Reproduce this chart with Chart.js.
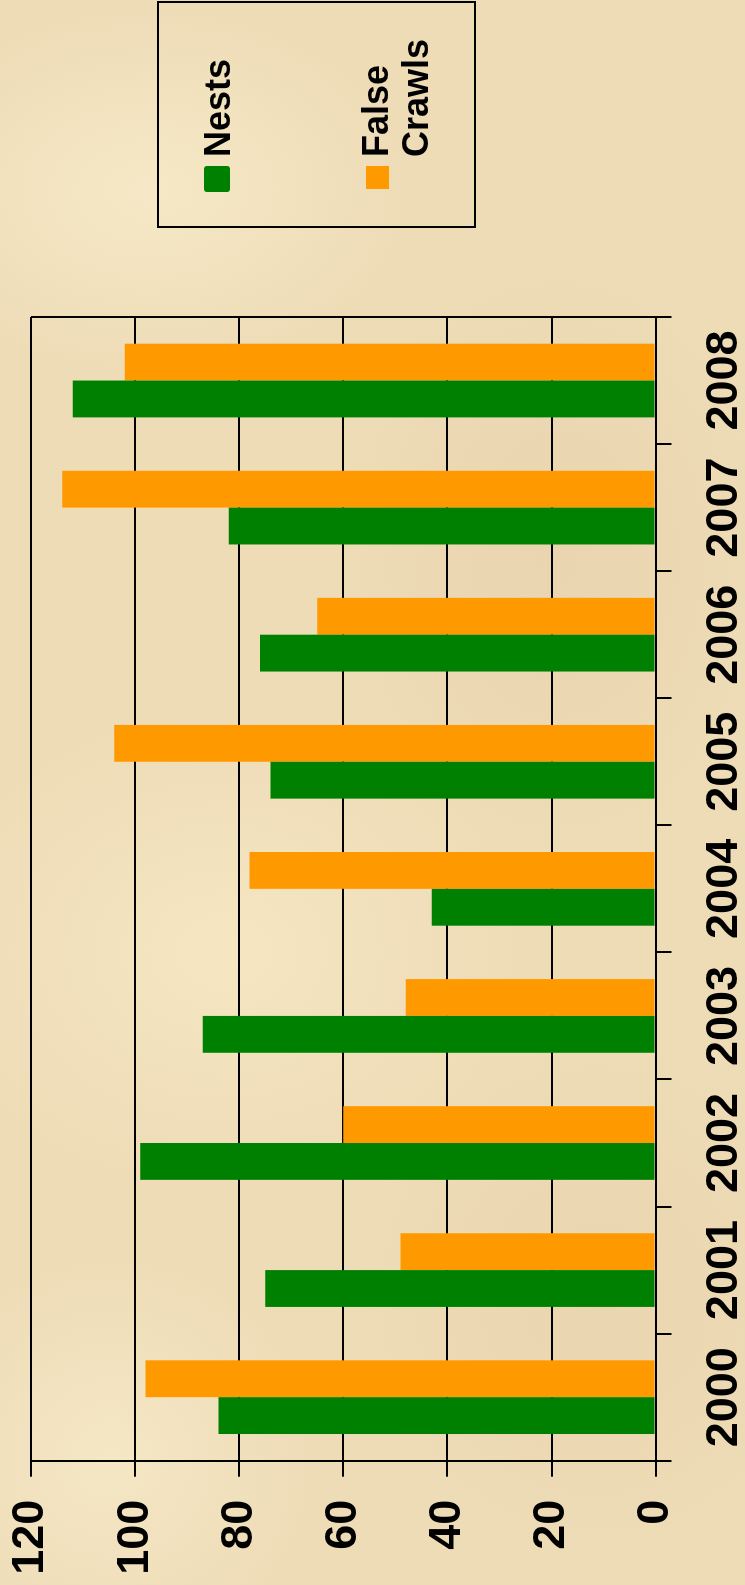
<!DOCTYPE html>
<html>
<head>
<meta charset="utf-8">
<title>Nests and False Crawls</title>
<script src="https://cdn.jsdelivr.net/npm/chart.js@4.4.1/dist/chart.umd.min.js"></script>
<style>
  html, body {
    margin: 0;
    padding: 0;
  }
  body {
    position: relative;
    width: 745px;
    height: 1585px;
    overflow: hidden;
    font-family: "Liberation Sans", Arial, sans-serif;
    background:
      radial-gradient(ellipse 260px 180px at 20% 12%, rgba(250, 238, 205, 0.7), rgba(250, 238, 205, 0) 100%),
      radial-gradient(ellipse 220px 300px at 75% 35%, rgba(226, 204, 164, 0.45), rgba(226, 204, 164, 0) 100%),
      radial-gradient(ellipse 300px 240px at 30% 60%, rgba(250, 236, 200, 0.6), rgba(250, 236, 200, 0) 100%),
      radial-gradient(ellipse 240px 260px at 80% 82%, rgba(228, 206, 168, 0.45), rgba(228, 206, 168, 0) 100%),
      radial-gradient(ellipse 200px 200px at 15% 92%, rgba(250, 238, 206, 0.6), rgba(250, 238, 206, 0) 100%),
      #EEDCB7;
  }
  /* the chart is drawn landscape and turned a quarter to the left */
  #turned {
    position: absolute;
    left: 0;
    top: 0;
    width: 1585px;
    height: 745px;
    transform-origin: 0 0;
    transform: translate(0, 1585px) rotate(-90deg);
  }
  #myChart {
    position: absolute;
    left: 0;
    top: 0;
  }
  .legend {
    position: absolute;
    left: 1357px;
    top: 157px;
    width: 227px;
    height: 319px;
    border: 2px solid #000;
    box-sizing: border-box;
  }
  .legend__swatch {
    position: absolute;
  }
  .legend__swatch.nests {
    left: 34px;
    top: 45px;
    width: 26px;
    height: 26px;
    border-radius: 3px;
    background: #008000;
  }
  .legend__swatch.crawls {
    left: 37px;
    top: 207px;
    width: 23px;
    height: 23px;
    background: #FF9900;
  }
  .legend__text {
    position: absolute;
    left: 69px;
    font-size: 36px;
    font-weight: bold;
    line-height: 40px;
    color: #000;
    white-space: nowrap;
  }
</style>
</head>
<body>
<div id="turned">
  <canvas id="myChart" width="1585" height="745"></canvas>
  <div class="legend">
    <div class="legend__swatch nests"></div>
    <div class="legend__text" style="top:39px">Nests</div>
    <div class="legend__swatch crawls"></div>
    <div class="legend__text" style="top:197px">False<br>Crawls</div>
  </div>
</div>
<script>
const years = ['2000', '2001', '2002', '2003', '2004', '2005', '2006', '2007', '2008'];
const nests = [84, 75, 99, 87, 43, 74, 76, 82, 112];
const falseCrawls = [98, 49, 60, 48, 78, 104, 65, 114, 102];
const valueMin = 0;
const valueMax = 120;
const valueStep = 20;

const tickFont = {
  family: '"Liberation Sans", Arial, sans-serif',
  size: 45,
  weight: 'bold',
};

// right edge of the plot has a line too
const plotBox = {
  id: 'plotBox',
  beforeDatasetsDraw(chart) {
    const a = chart.chartArea;
    const c = chart.ctx;
    c.save();
    c.strokeStyle = '#000';
    c.lineWidth = 2;
    c.beginPath();
    c.moveTo(a.right, a.top);
    c.lineTo(a.right, a.bottom);
    c.stroke();
    c.restore();
  }
};

const ctx = document.querySelector('#myChart').getContext('2d');

// eslint-disable-next-line no-undef
const chart = new Chart(ctx, {
  type: 'bar',
  data: {
    labels: years,
    datasets: [{
      label: 'Nests',
      backgroundColor: '#008000',
      data: nests,
      categoryPercentage: 0.58,
      barPercentage: 1.0,
    },
    {
      label: 'False Crawls',
      backgroundColor: '#FF9900',
      data: falseCrawls,
      categoryPercentage: 0.58,
      barPercentage: 1.0,
    }]
  },
  options: {
    responsive: false,
    animation: false,
    devicePixelRatio: 1,
    layout: {
      padding: { left: 0, right: 317, top: 31, bottom: 0 }
    },
    scales: {
      x: {
        grid: {
          drawOnChartArea: false,
          drawTicks: true,
          tickLength: 16,
          color: '#000',
          lineWidth: 2,
        },
        border: { color: '#000', width: 2 },
        ticks: {
          color: '#000',
          font: tickFont,
          padding: 26,
          maxRotation: 0,
          autoSkip: false,
        },
        afterFit(scale) {
          scale.height = 89.4;
        },
      },
      y: {
        min: valueMin,
        max: valueMax,
        grid: {
          color: '#000',
          lineWidth: 2,
          tickLength: 16,
        },
        border: { color: '#000', width: 2 },
        ticks: {
          stepSize: valueStep,
          color: '#000',
          font: tickFont,
          padding: 23,
        },
        afterFit(scale) {
          scale.width = 124.3;
          // label padding would otherwise push the plot top down
          scale.paddingTop = 20;
          scale.paddingBottom = 20;
        },
      }
    },
    plugins: {
      legend: { display: false },
      tooltip: { enabled: false },
    }
  },
  plugins: [plotBox],
});
</script>
</body>
</html>
